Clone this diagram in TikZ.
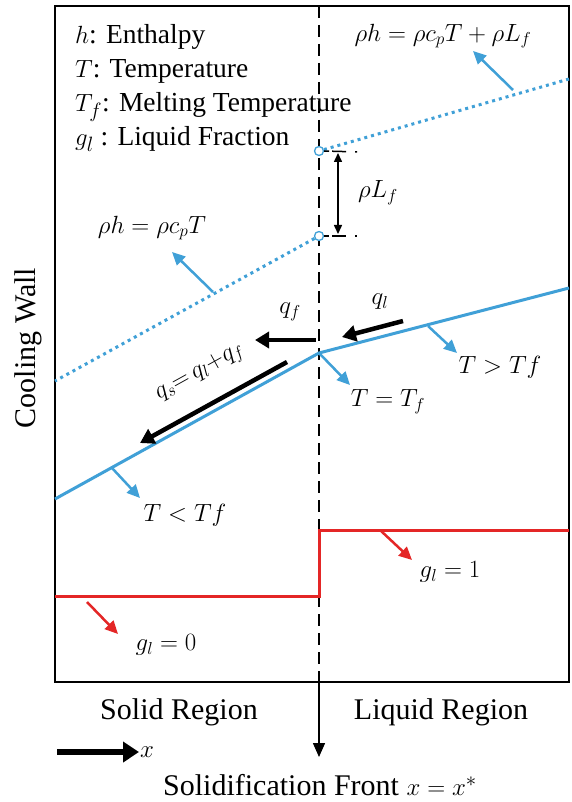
\documentclass[tikz,border=0pt]{standalone}
\usepackage{fontspec}
\setmainfont{Liberation Serif}
\usetikzlibrary{arrows.meta}
\definecolor{myblue}{RGB}{64,160,215}
\definecolor{myred}{RGB}{228,38,38}
\begin{document}
\begin{tikzpicture}[x=1pt,y=-1pt, font=\fontsize{25}{30}\selectfont,
  barrow/.style={myblue, line width=2.5pt, -{Triangle[length=13pt,width=12pt]}},
  rarrow/.style={myred, line width=2.5pt, -{Triangle[length=13pt,width=12pt]}},
  flux/.style={black, line width=4.5pt, -{Triangle[length=14pt,width=16pt]}},
  dotline/.style={myblue, line width=3pt, dash pattern=on 3pt off 4pt},
  tline/.style={myblue, line width=3pt},
  gline/.style={myred, line width=3pt, line join=miter},
  ring/.style={circle, draw=myblue, fill=white, line width=1.3pt, minimum size=9pt, inner sep=0pt},
  legend/.style={anchor=base west, inner sep=0pt, font=\fontsize{27.5}{32}\selectfont},
  big/.style={font=\fontsize{30}{36}\selectfont}]
\useasboundingbox (0,0) rectangle (571,802);
\fill[white] (0,0) rectangle (571,802);
% frame
\coordinate (TL) at (55,6);
\coordinate (BR) at (569,682);
\draw[line width=2.2pt] (TL) rectangle (BR);
% solidification front
\coordinate (FT) at (319,6);
\coordinate (FB) at (319,682);
\coordinate (FE) at (319,757);
\draw[line width=1.8pt, dash pattern=on 12pt off 7pt] (FT) -- (FB);
\draw[line width=1.5pt, -{Triangle[length=14pt,width=12pt]}] (FB) -- (FE);
% enthalpy lines
\node[ring] (c1) at (319,151) {};
\node[ring] (c2) at (319,236) {};
\coordinate (D1) at (569,79);
\coordinate (D2) at (55,381);
\draw[dotline] (c1) -- (D1);
\draw[dotline] (c2) -- (D2);
% latent heat jump
\coordinate (LA) at (338,153);
\coordinate (LB) at (338,234);
\draw[line width=1.5pt, {Triangle[length=9pt,width=8pt]}-{Triangle[length=9pt,width=8pt]}] (LA) -- (LB);
\coordinate (LAt) at (360,152);
\coordinate (LBt) at (360,236);
\draw[line width=1.5pt, dash pattern=on 5pt off 3pt on 14pt off 9pt on 2pt off 20pt] (c1.east) -- (LAt);
\draw[line width=1.5pt, dash pattern=on 5pt off 3pt on 14pt off 9pt on 2pt off 20pt] (c2.east) -- (LBt);
\node (rLf) at (378,193) {$\rho L_f$};
% temperature line
\coordinate (T0) at (55,499);
\coordinate (K) at (319,353);
\coordinate (T1) at (569,288);
\draw[tline] (T0) -- (K) -- (T1);
% liquid fraction
\coordinate (G0) at (55,596);
\coordinate (G1) at (319,596);
\coordinate (G2) at (319,530);
\coordinate (G3) at (569,530);
\draw[gline] (G0) -- (G1) -- (G2) -- (G3);
% enthalpy labels
\node (eqL) at (443,36) {$\rho h=\rho c_pT+\rho L_f$};
\coordinate (aL0) at (513,90);
\coordinate (aL1) at (473,51);
\draw[barrow] (aL0) -- (aL1);
\node (eqS) at (152,228) {$\rho h=\rho c_pT$};
\coordinate (aS0) at (213,292);
\coordinate (aS1) at (172,252);
\draw[barrow] (aS0) -- (aS1);
% fluxes
\node (ql) at (380,302) {$q_l$};
\coordinate (q10) at (403,321);
\coordinate (q11) at (342,337);
\draw[flux] (q10) -- (q11);
\node (qf) at (290,312) {$q_f$};
\coordinate (qf0) at (316,340);
\coordinate (qf1) at (255,340);
\draw[flux] (qf0) -- (qf1);
\coordinate (qs0) at (287,362);
\coordinate (qs1) at (140,443);
\draw[flux] (qs0) -- (qs1);
\node[rotate=29, inner sep=0pt] (qs) at (200,373) {$q_s{=}\,q_l{+}q_f$};
% temperature labels
\node (Tlt) at (185,515) {$T<Tf$};
\coordinate (t10) at (112,468);
\coordinate (t11) at (140,498);
\draw[barrow] (t10) -- (t11);
\node (Teq) at (388,402) {$T=T_f$};
\coordinate (t21) at (350,385);
\draw[barrow] (K) -- (t21);
\node (Tgt) at (500,367) {$T>Tf$};
\coordinate (t30) at (428,326);
\coordinate (t31) at (457,353);
\draw[barrow] (t30) -- (t31);
% liquid fraction labels
\node (g1) at (450,572) {$g_l=1$};
\coordinate (r10) at (380,530);
\coordinate (r11) at (412,560);
\draw[rarrow] (r10) -- (r11);
\node (g0) at (166,645) {$g_l=0$};
\coordinate (r00) at (87,602);
\coordinate (r01) at (118,634);
\draw[rarrow] (r00) -- (r01);
% legend
\node[legend] (l1) at (75,44) {$h$: Enthalpy};
\node[legend] (l2) at (75,78) {$T$: Temperature};
\node[legend] (l3) at (75,112) {$T_f$: Melting Temperature};
\node[legend] (l4) at (75,146) {$g_l$ : Liquid Fraction};
% side and bottom labels
\node[big, rotate=90] (cw) at (28,348) {Cooling Wall};
\node[big] (sr) at (179,712) {Solid Region};
\node[big] (lr) at (441,712) {Liquid Region};
\coordinate (X0) at (57,752);
\coordinate (X1) at (139,752);
\draw[line width=6pt, -{Triangle[length=16pt,width=20pt]}] (X0) -- (X1);
\node[big, anchor=west, inner sep=1pt] (xl) at (X1) {$x$};
\node[big] (sf) at (320,785) {Solidification Front $x=x^*$};
\end{tikzpicture}
\end{document}
